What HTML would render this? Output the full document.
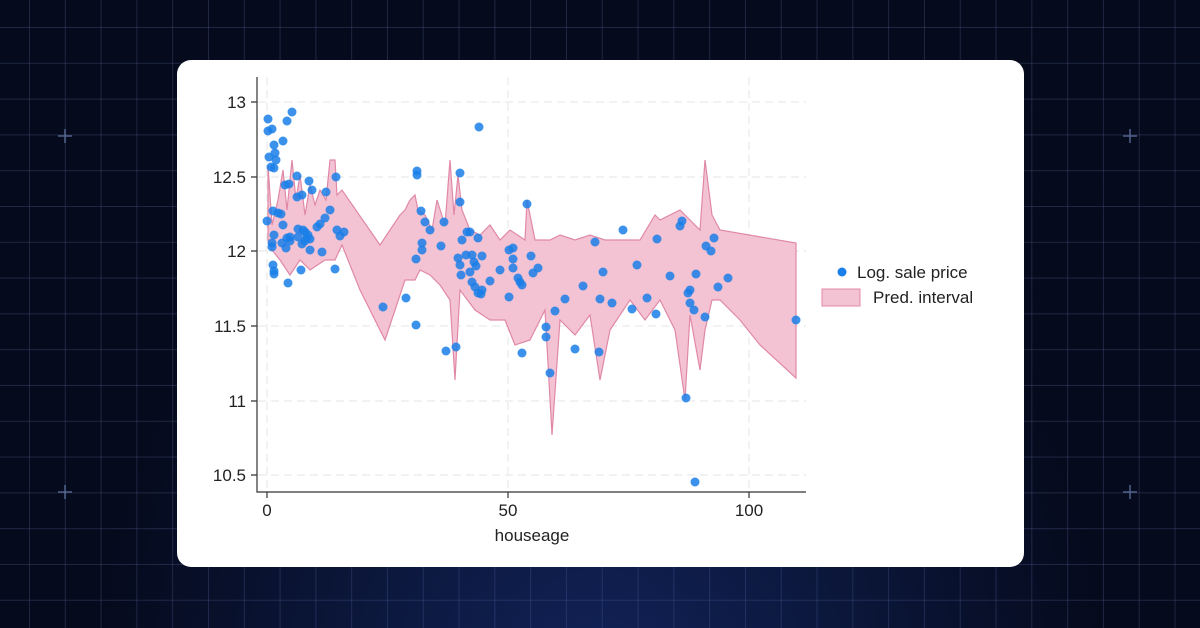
<!DOCTYPE html><html><head><style>
body{margin:0;width:1200px;height:628px;overflow:hidden;background:#050a1c;font-family:"Liberation Sans",sans-serif}
.bg{position:absolute;inset:0;background-image:linear-gradient(rgba(90,105,150,.3) 1px,transparent 1px),linear-gradient(90deg,rgba(90,105,150,.3) 1px,transparent 1px);background-size:35.8px 35.8px;background-position:29px 27px}
.glow{position:absolute;inset:0;background:radial-gradient(ellipse at 50% 110%,rgba(40,80,200,.35),transparent 60%)}
.card{position:absolute;left:177px;top:60px;width:847px;height:507px;background:#fff;border-radius:14px}
</style></head><body><div class="bg"></div><div class="glow"></div><div class="card"></div>
<svg style="position:absolute;left:0;top:0" width="1200" height="628">
<g stroke="#6f86b8" stroke-width="1.5" opacity=".7"><path d="M58 136h14M65 129v14M1123 136h14M1130 129v14M58 492h14M65 485v14M1123 492h14M1130 485v14"/></g>
<g stroke="#e6e6e6" stroke-dasharray="8 5" stroke-width="1"><path d="M258 102H806M258 177H806M258 251H806M258 326H806M258 401H806M258 475H806M267 77V492M508 77V492M749 77V492"/></g>
<polygon fill="#f3c3d3" stroke="#e088a8" stroke-width="1.2" points="268,165 272,225 278,200 283,170 287,210 292,160 296,200 300,175 305,215 310,185 315,205 320,190 326,200 330,160 335,160 337,195 342,190 380,245 400,215 405,210 410,200 415,195 418,210 425,215 432,230 437,200 445,225 450,160 454,215 458,175 462,210 470,230 480,235 490,225 500,240 510,230 525,240 527,200 535,240 550,240 560,235 575,240 590,235 605,240 640,240 655,215 660,220 680,210 690,220 700,230 705,160 712,215 720,230 796,243 796,378 760,345 740,320 720,300 712,300 705,330 700,370 690,315 685,400 675,330 660,300 645,320 630,300 610,330 600,380 590,315 575,335 560,320 552,435 545,310 530,340 515,345 505,320 490,320 475,310 460,290 455,380 450,300 440,285 430,275 420,270 415,280 405,280 385,340 360,290 342,245 335,260 325,260 310,270 300,260 290,275 280,260 272,250 268,240"/>
<g stroke="#333" stroke-width="1.2" fill="none"><path d="M257 77V492H806M251 102h6M251 177h6M251 251h6M251 326h6M251 401h6M251 475h6M267 492v6M508 492v6M749 492v6"/></g>
<g font-size="17" fill="#222" text-anchor="end"><text x="246" y="108">13</text><text x="246" y="183">12.5</text><text x="246" y="257">12</text><text x="246" y="332">11.5</text><text x="246" y="407">11</text><text x="246" y="481">10.5</text></g>
<g font-size="17" fill="#222" text-anchor="middle"><text x="267" y="516">0</text><text x="508" y="516">50</text><text x="749" y="516">100</text><text x="532" y="541">houseage</text></g>
<circle cx="842" cy="272" r="4.5" fill="#1a7fe8"/><text x="857" y="278" font-size="17" fill="#222">Log. sale price</text>
<rect x="822" y="289" width="38" height="17" fill="#f3c3d3" stroke="#e088a8"/><text x="873" y="303" font-size="17" fill="#222">Pred. interval</text>
<g fill="#1a7fe8" fill-opacity=".85">
<circle cx="268" cy="119" r="4.5"/><circle cx="268" cy="131" r="4.5"/><circle cx="272" cy="129" r="4.5"/><circle cx="269" cy="157" r="4.5"/><circle cx="274" cy="145" r="4.5"/><circle cx="275" cy="153" r="4.5"/><circle cx="271" cy="167" r="4.5"/><circle cx="274" cy="168" r="4.5"/><circle cx="276" cy="160" r="4.5"/><circle cx="267" cy="221" r="4.5"/><circle cx="273" cy="211" r="4.5"/><circle cx="272" cy="247" r="4.5"/><circle cx="272" cy="243" r="4.5"/><circle cx="274" cy="235" r="4.5"/><circle cx="273" cy="265" r="4.5"/><circle cx="274" cy="271" r="4.5"/><circle cx="274" cy="274" r="4.5"/><circle cx="287" cy="121" r="4.5"/><circle cx="283" cy="141" r="4.5"/><circle cx="292" cy="112" r="4.5"/><circle cx="285" cy="185" r="4.5"/><circle cx="289" cy="184" r="4.5"/><circle cx="278" cy="213" r="4.5"/><circle cx="281" cy="214" r="4.5"/><circle cx="283" cy="225" r="4.5"/><circle cx="287" cy="238" r="4.5"/><circle cx="290" cy="241" r="4.5"/><circle cx="282" cy="243" r="4.5"/><circle cx="286" cy="248" r="4.5"/><circle cx="290" cy="237" r="4.5"/><circle cx="288" cy="283" r="4.5"/><circle cx="297" cy="176" r="4.5"/><circle cx="297" cy="197" r="4.5"/><circle cx="298" cy="229" r="4.5"/><circle cx="302" cy="195" r="4.5"/><circle cx="303" cy="230" r="4.5"/><circle cx="305" cy="232" r="4.5"/><circle cx="309" cy="181" r="4.5"/><circle cx="312" cy="190" r="4.5"/><circle cx="305" cy="241" r="4.5"/><circle cx="308" cy="235" r="4.5"/><circle cx="310" cy="239" r="4.5"/><circle cx="310" cy="250" r="4.5"/><circle cx="301" cy="270" r="4.5"/><circle cx="317" cy="227" r="4.5"/><circle cx="320" cy="224" r="4.5"/><circle cx="298" cy="237" r="4.5"/><circle cx="302" cy="244" r="4.5"/><circle cx="307" cy="238" r="4.5"/><circle cx="322" cy="252" r="4.5"/><circle cx="326" cy="192" r="4.5"/><circle cx="325" cy="218" r="4.5"/><circle cx="330" cy="210" r="4.5"/><circle cx="336" cy="177" r="4.5"/><circle cx="335" cy="269" r="4.5"/><circle cx="337" cy="230" r="4.5"/><circle cx="340" cy="236" r="4.5"/><circle cx="344" cy="232" r="4.5"/><circle cx="383" cy="307" r="4.5"/><circle cx="406" cy="298" r="4.5"/><circle cx="417" cy="171" r="4.5"/><circle cx="417" cy="175" r="4.5"/><circle cx="416" cy="325" r="4.5"/><circle cx="416" cy="259" r="4.5"/><circle cx="421" cy="211" r="4.5"/><circle cx="422" cy="243" r="4.5"/><circle cx="425" cy="222" r="4.5"/><circle cx="422" cy="250" r="4.5"/><circle cx="430" cy="230" r="4.5"/><circle cx="441" cy="246" r="4.5"/><circle cx="444" cy="222" r="4.5"/><circle cx="446" cy="351" r="4.5"/><circle cx="456" cy="347" r="4.5"/><circle cx="460" cy="173" r="4.5"/><circle cx="460" cy="202" r="4.5"/><circle cx="458" cy="258" r="4.5"/><circle cx="462" cy="240" r="4.5"/><circle cx="467" cy="232" r="4.5"/><circle cx="470" cy="232" r="4.5"/><circle cx="460" cy="265" r="4.5"/><circle cx="461" cy="275" r="4.5"/><circle cx="466" cy="255" r="4.5"/><circle cx="470" cy="272" r="4.5"/><circle cx="472" cy="255" r="4.5"/><circle cx="474" cy="262" r="4.5"/><circle cx="476" cy="266" r="4.5"/><circle cx="475" cy="287" r="4.5"/><circle cx="479" cy="127" r="4.5"/><circle cx="478" cy="238" r="4.5"/><circle cx="482" cy="256" r="4.5"/><circle cx="482" cy="290" r="4.5"/><circle cx="481" cy="294" r="4.5"/><circle cx="472" cy="282" r="4.5"/><circle cx="478" cy="293" r="4.5"/><circle cx="490" cy="281" r="4.5"/><circle cx="500" cy="270" r="4.5"/><circle cx="509" cy="250" r="4.5"/><circle cx="513" cy="248" r="4.5"/><circle cx="513" cy="259" r="4.5"/><circle cx="513" cy="268" r="4.5"/><circle cx="509" cy="297" r="4.5"/><circle cx="518" cy="278" r="4.5"/><circle cx="520" cy="282" r="4.5"/><circle cx="522" cy="285" r="4.5"/><circle cx="522" cy="353" r="4.5"/><circle cx="527" cy="204" r="4.5"/><circle cx="531" cy="256" r="4.5"/><circle cx="533" cy="273" r="4.5"/><circle cx="538" cy="268" r="4.5"/><circle cx="546" cy="327" r="4.5"/><circle cx="546" cy="337" r="4.5"/><circle cx="550" cy="373" r="4.5"/><circle cx="555" cy="311" r="4.5"/><circle cx="565" cy="299" r="4.5"/><circle cx="575" cy="349" r="4.5"/><circle cx="583" cy="286" r="4.5"/><circle cx="595" cy="242" r="4.5"/><circle cx="599" cy="352" r="4.5"/><circle cx="600" cy="299" r="4.5"/><circle cx="603" cy="272" r="4.5"/><circle cx="612" cy="303" r="4.5"/><circle cx="623" cy="230" r="4.5"/><circle cx="632" cy="309" r="4.5"/><circle cx="637" cy="265" r="4.5"/><circle cx="647" cy="298" r="4.5"/><circle cx="656" cy="314" r="4.5"/><circle cx="657" cy="239" r="4.5"/><circle cx="670" cy="276" r="4.5"/><circle cx="682" cy="221" r="4.5"/><circle cx="680" cy="226" r="4.5"/><circle cx="686" cy="398" r="4.5"/><circle cx="688" cy="293" r="4.5"/><circle cx="690" cy="303" r="4.5"/><circle cx="694" cy="310" r="4.5"/><circle cx="696" cy="274" r="4.5"/><circle cx="690" cy="290" r="4.5"/><circle cx="695" cy="482" r="4.5"/><circle cx="705" cy="317" r="4.5"/><circle cx="706" cy="246" r="4.5"/><circle cx="711" cy="251" r="4.5"/><circle cx="714" cy="238" r="4.5"/><circle cx="718" cy="287" r="4.5"/><circle cx="728" cy="278" r="4.5"/><circle cx="796" cy="320" r="4.5"/>
</g>
</svg></body></html>
